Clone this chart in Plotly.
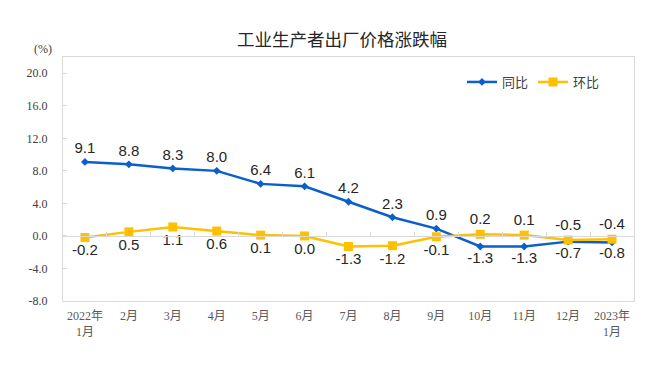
import plotly.graph_objects as go

categories = ["2022年<br>1月", "2月", "3月", "4月", "5月", "6月", "7月", "8月", "9月",
              "10月", "11月", "12月", "2023年<br>1月"]
yoy = [9.1, 8.8, 8.3, 8.0, 6.4, 6.1, 4.2, 2.3, 0.9, -1.3, -1.3, -0.7, -0.8]
mom = [-0.2, 0.5, 1.1, 0.6, 0.1, 0.0, -1.3, -1.2, -0.1, 0.2, 0.1, -0.5, -0.4]
y_ticks = [-8, -4, 0, 4, 8, 12, 16, 20]

# page is rendered with an 8px body margin; layout positions compensate for it
OFF = 8
W, H = 670, 366
ML, MT = 63 - OFF, 57 - OFF
MR = W - (634 - OFF)
MB = H - (301 - OFF)
PW, PH = W - ML - MR, H - MT - MB

YMIN, YMAX = -8, 22
BLUE = "#0A5FCC"
GOLD = "#FFC000"
GRID = "#D9D9D9"
LABEL_FONT = dict(family="Liberation Sans, Arial, sans-serif", size=15, color="#262626")

yoy_pos = ["top center" if i < 9 else "bottom center" for i in range(len(yoy))]
mom_pos = ["bottom center" if i < 9 else "top center" for i in range(len(mom))]

fig = go.Figure()
fig.add_trace(go.Scatter(
    x=categories, y=yoy, name="同比", mode="lines+markers+text",
    line=dict(color=BLUE, width=2.5),
    marker=dict(symbol="diamond", size=6, color=BLUE),
    text=[f"{v:.1f}" for v in yoy], textposition=yoy_pos, textfont=LABEL_FONT,
    cliponaxis=False,
))
fig.add_trace(go.Scatter(
    x=categories, y=mom, name="环比", mode="lines+markers+text", xaxis="x2",
    line=dict(color=GOLD, width=2.5),
    marker=dict(symbol="square", size=9, color=GOLD),
    text=[f"{v:.1f}" for v in mom], textposition=mom_pos, textfont=LABEL_FONT,
    cliponaxis=False,
))

fig.update_layout(
    width=W, height=H,
    margin=dict(l=ML, r=MR, t=MT, b=MB),
    paper_bgcolor="white", plot_bgcolor="white",
    title=dict(text="工业生产者出厂价格涨跌幅", x=(342 - OFF) / W, xanchor="center",
               y=1 - (40 - OFF) / H, yanchor="middle", yref="container",
               font=dict(family="Noto Sans CJK SC, sans-serif", size=17.5, color="#262626")),
    xaxis=dict(type="category", categoryorder="array", categoryarray=categories,
               range=[-0.5, len(categories) - 0.5],
               showline=True, linecolor=GRID, linewidth=1, mirror=True,
               ticks="", showgrid=False, zeroline=False,
               tickfont=dict(family="Liberation Serif, Noto Sans CJK SC, serif", size=12, color="#595959"),
               ticklabelstandoff=4),
    xaxis2=dict(type="category", categoryorder="array", categoryarray=categories,
                range=[-0.5, len(categories) - 0.5], overlaying="x", anchor="free",
                position=(0 - YMIN) / (YMAX - YMIN), side="bottom",
                showline=True, linecolor=GRID, linewidth=1,
                tickson="boundaries", ticks="inside", ticklen=4, tickcolor=GRID,
                showticklabels=False, showgrid=False, zeroline=False),
    yaxis=dict(range=[YMIN, YMAX], tickvals=y_ticks,
               ticktext=[f"{v:.1f}" for v in y_ticks],
               showline=True, linecolor=GRID, linewidth=1, mirror=True,
               ticks="inside", ticklen=4, tickcolor=GRID,
               showgrid=False, zeroline=False,
               tickfont=dict(family="Liberation Serif, serif", size=12, color="#404040"),
               ticklabelstandoff=12),
    legend=dict(orientation="h", x=(597 - ML) / PW, xanchor="right",
                y=1 - (74 - MT) / PH, yanchor="middle",
                bgcolor="rgba(0,0,0,0)", itemwidth=30,
                font=dict(family="Noto Sans CJK SC, sans-serif", size=13, color="#404040")),
    showlegend=True,
    annotations=[dict(text="(%)", x=(43 - OFF - ML) / PW, y=(H - MB - (49 - OFF)) / PH,
                      xref="paper", yref="paper",
                      showarrow=False, xanchor="center", yanchor="middle",
                      font=dict(family="Liberation Serif, serif", size=12, color="#404040"))],
)

fig.write_html("out.html")
